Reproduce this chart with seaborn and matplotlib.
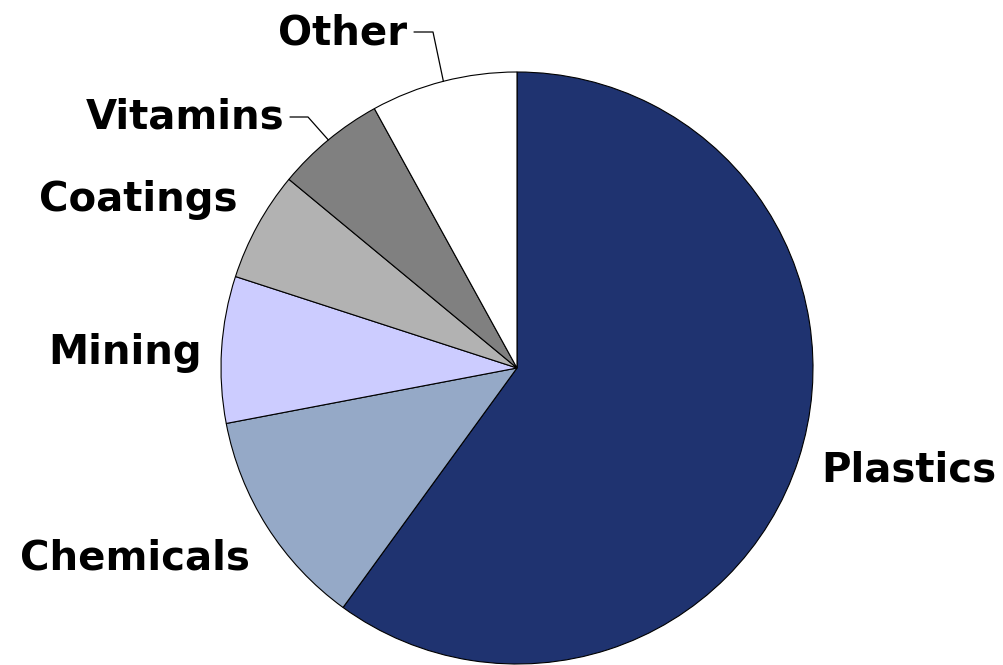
import numpy as np
import matplotlib
matplotlib.use("Agg")
import matplotlib.pyplot as plt
import seaborn as sns

categories = ["Plastics", "Chemicals", "Mining", "Coatings", "Vitamins", "Other"]
values = [60, 12, 8, 6, 6, 8]
colors = ["#1F3370", "#95A9C7", "#CCCCFF", "#B2B2B2", "#808080", "#FFFFFF"]

sns.set_theme(style="white")
plt.rcParams['font.family'] = ['DejaVu Sans']

W, H = 1004, 665
fig = plt.figure(figsize=(W / 100, H / 100), dpi=100)
ax = fig.add_axes([0, 0, 1, 1])

cx, cy, r = 517, H - 368, 296
wedges, _ = ax.pie(values, colors=colors, startangle=90, counterclock=False,
                   center=(cx, cy), radius=r,
                   wedgeprops=dict(edgecolor="black", linewidth=0.8))
ax.set_xlim(0, W)
ax.set_ylim(0, H)
ax.set_aspect("equal")
ax.axis("off")

fs = 29
label_pos = {
    "Plastics": (909, 470, "center"),
    "Chemicals": (135, 558, "center"),
    "Mining": (125, 353, "center"),
    "Coatings": (138, 200, "center"),
    "Vitamins": (284, 117, "right"),
    "Other": (407, 33, "right"),
}
for name in categories:
    x, y, ha = label_pos[name]
    ax.text(x, H - y, name, ha=ha, va="center", fontsize=fs, fontweight="bold",
            color="black")

# leader lines for small slices
def arc_point(w):
    ang = np.deg2rad((w.theta1 + w.theta2) / 2)
    return cx + r * np.cos(ang), cy + r * np.sin(ang)

wo = wedges[categories.index("Other")]
px, py = arc_point(wo)
ax.plot([414, 433, px], [H - 32, H - 32, py], color="black", lw=0.9)

wv = wedges[categories.index("Vitamins")]
px, py = arc_point(wv)
ax.plot([290, 308, px], [H - 117, H - 117, py], color="black", lw=0.9)

fig.savefig("out.png", dpi=100, facecolor="white")
